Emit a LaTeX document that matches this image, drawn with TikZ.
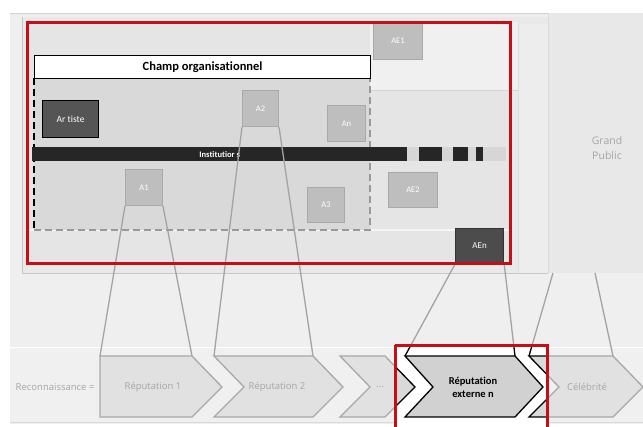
\documentclass[tikz,border=0pt]{standalone}
\usepackage{fontspec}
\setmainfont{Carlito}[Ligatures={NoCommon,NoRare}]
\newfontfamily\osans{Open Sans}
\definecolor{redbox}{RGB}{198,14,22}
\definecolor{bgall}{HTML}{EFEFEF}
\definecolor{panelgray}{HTML}{E9E9E9}
\definecolor{innergray}{HTML}{E5E5E5}
\definecolor{dashfill}{HTML}{D9D9D9}
\definecolor{boxgray}{HTML}{BEBEBE}
\definecolor{boxedge}{HTML}{A9A9A9}
\definecolor{darkbox}{HTML}{555555}
\definecolor{barblack}{HTML}{262626}
\definecolor{linegray}{HTML}{A3A3A3}
\definecolor{chevfill}{HTML}{E1E1E1}
\definecolor{chevedge}{HTML}{A8A8A8}
\definecolor{txtgray}{HTML}{A5A5A5}
\tikzset{
  gbox/.style={draw=boxedge, fill=boxgray, line width=1pt, inner sep=0pt, anchor=north west,
     text=white, font=\fontsize{8.5}{9}\selectfont},
  dbox/.style={draw=black, fill=darkbox, line width=1.2pt, inner sep=0pt, anchor=north west,
     text=white, font=\fontsize{9.5}{10}\selectfont},
  conn/.style={draw=linegray, line width=1.3pt},
  connhi/.style={draw=black, line width=1.3pt},
  chev/.style={draw=chevedge, fill=chevfill, line width=1.3pt, line join=miter},
  chevhi/.style={draw=black, fill=#1, line width=1.3pt, line join=miter},
  glabel/.style={text=txtgray, font=\osans\fontsize{9.5}{11}\selectfont},
  redframe/.style={draw=redbox, line width=3pt},
}
\begin{document}
\begin{tikzpicture}[x=1pt,y=-1pt]
\useasboundingbox (0,0) rectangle (643,426);
\fill[white] (0,0) rectangle (643,426);
% backgrounds
\fill[bgall] (10,13) rectangle (643,424);
\draw[draw=black!18, line width=1pt] (10,13) -- (643,13);
\fill[panelgray] (22,17) rectangle (548,273);
\draw[draw=black!22, line width=1pt] (22,17) -- (22,273) -- (548,273);
\fill[fill=black!9] (548,13) rectangle (643,273);
\draw[draw=black!15, line width=1pt] (548,13) -- (548,273);
\fill[fill=black!7] (518,24) rectangle (548,273);
\draw[draw=black!13, line width=1pt] (518,24) -- (518,273);
% bottom band
\fill[fill=black!6] (10,347) rectangle (643,422);
\draw[draw=white, line width=1pt] (10,347) -- (643,347);
\draw[draw=black!15, line width=1pt] (10,422) -- (643,422);
% inside red frame
\fill[innergray] (27,22) rectangle (510,263);
\fill[fill=black!6] (370,22) rectangle (518,90);
\draw[draw=black!17, line width=1pt] (370,90) -- (518,90);
\draw[draw=black!4, line width=1.5pt] (27,230) -- (510,230);
% dashed area
\fill[dashfill] (34,78) rectangle (370,230);
\draw[draw=black!40, line width=1.2pt, dash pattern=on 7pt off 4pt] (34,230) -- (370,230) -- (370,78);
\draw[draw=black, line width=1.4pt, dash pattern=on 7pt off 4pt] (34,78) -- (34,230);
% champ organisationnel
\node[draw=black, fill=white, line width=1.2pt, minimum width=336pt, minimum height=23pt, inner sep=0pt,
  anchor=north west, font=\bfseries\fontsize{12.5}{14}\selectfont] (champ) at (34,55) {Champ organisationnel};
% institutions bar
\fill[fill=black!16] (407,147) rectangle (506,161);
\node[fill=barblack, minimum width=375pt, minimum height=14pt, inner sep=0pt, anchor=north west,
  text=white, font=\bfseries\fontsize{8.5}{9}\selectfont] (inst) at (32,147) {Institutior s};
\node[fill=barblack, minimum width=23pt, minimum height=14pt, inner sep=0pt, anchor=north west] (sq1) at (419,147) {};
\node[fill=barblack, minimum width=15pt, minimum height=14pt, inner sep=0pt, anchor=north west] (sq2) at (453,147) {};
\node[fill=barblack, minimum width=7pt, minimum height=14pt, inner sep=0pt, anchor=north west] (sq3) at (476,147) {};
% boxes
\node[dbox, minimum width=56pt, minimum height=37pt] (artiste) at (42,100) {Ar tiste};
\node[gbox, minimum width=36pt, minimum height=36pt] (a2) at (242,90) {A2};
\node[gbox, minimum width=38pt, minimum height=36pt] (an) at (327,105) {An};
\node[gbox, minimum width=37pt, minimum height=36pt] (a1) at (125,169) {A1};
\node[gbox, minimum width=37pt, minimum height=35pt] (a3) at (307,187) {A3};
\node[gbox, minimum width=49pt, minimum height=38pt] (ae1) at (373,21) {AE1};
\node[gbox, minimum width=49pt, minimum height=35pt] (ae2) at (388,172) {AE2};
\node[dbox, draw=black!80, fill=black!70, font=\fontsize{9}{10}\selectfont, minimum width=48pt, minimum height=35pt] (aen) at (455,228) {AEn};
% grand public
\node[text=txtgray, align=center, font=\osans\fontsize{10.5}{15}\selectfont] (gp) at (607,148) {Grand\\Public};
% chevron corner coordinates
\coordinate (r1tl) at (100,356); \coordinate (r1tr) at (192,356);
\coordinate (r2tl) at (214,356); \coordinate (r2tr) at (313,356);
\coordinate (rntl) at (405,356); \coordinate (rntr) at (515,356);
\coordinate (cetl) at (529,356); \coordinate (cetr) at (613,356);
\coordinate (gpl) at (553,273); \coordinate (gpr) at (595,273);
% chevrons (gray)
\path[chev] (100,356) -- (192,356) -- (222,387) -- (192,417) -- (100,417) -- cycle;
\path[chev] (214,356) -- (313,356) -- (343,387) -- (313,417) -- (214,417) -- (244,387) -- cycle;
\path[chev] (340,356) -- (385,356) -- (415,387) -- (385,417) -- (340,417) -- (370,387) -- cycle;
\path[chev] (529,356) -- (613,356) -- (643,387) -- (613,417) -- (529,417) -- (559,387) -- cycle;
% connectors
\draw[conn] (a1.south west) -- (r1tl);
\draw[conn] (a1.south east) -- (r1tr);
\draw[conn] (a2.south west) -- (r2tl);
\draw[conn] (a2.south east) -- (r2tr);
\draw[conn] (aen.south west) -- (rntl);
\draw[conn] (aen.south east) -- (rntr);
\draw[conn] (gpl) -- (cetl);
\draw[conn] (gpr) -- (cetr);
% highlighted area
\begin{scope}
\clip (395,345) rectangle (547,430);
\fill[white] (395,345) rectangle (547,430);
\path[chevhi=black!15] (340,356) -- (385,356) -- (415,387) -- (385,417) -- (340,417) -- (370,387) -- cycle;
\path[chevhi=black!18] (405,356) -- (515,356) -- (543,387) -- (515,417) -- (405,417) -- (433,387) -- cycle;
\path[chevhi=black!15] (529,356) -- (613,356) -- (643,387) -- (613,417) -- (529,417) -- (559,387) -- cycle;
\draw[connhi] (aen.south west) -- (rntl);
\draw[connhi] (aen.south east) -- (rntr);
\draw[connhi] (gpl) -- (cetl);
\end{scope}
% chevron labels
\node[glabel, anchor=east] (reco) at (98,387) {Reconnaissance =};
\node[glabel] (rep1) at (153,387) {Réputation 1};
\node[glabel] (rep2) at (277,387) {Réputation 2};
\node[glabel] (dots) at (380,387) {...};
\node[align=center, font=\bfseries\fontsize{10.5}{13}\selectfont] (repn) at (473,387) {Réputation\\externe n};
\node[glabel] (celeb) at (587,387) {Célébrité};
% red frames
\draw[redframe] (27,22) rectangle (510,263);
\draw[redframe] (395,345) -- (395,428) (395,345) -- (547,345) -- (547,428);
\end{tikzpicture}
\end{document}
